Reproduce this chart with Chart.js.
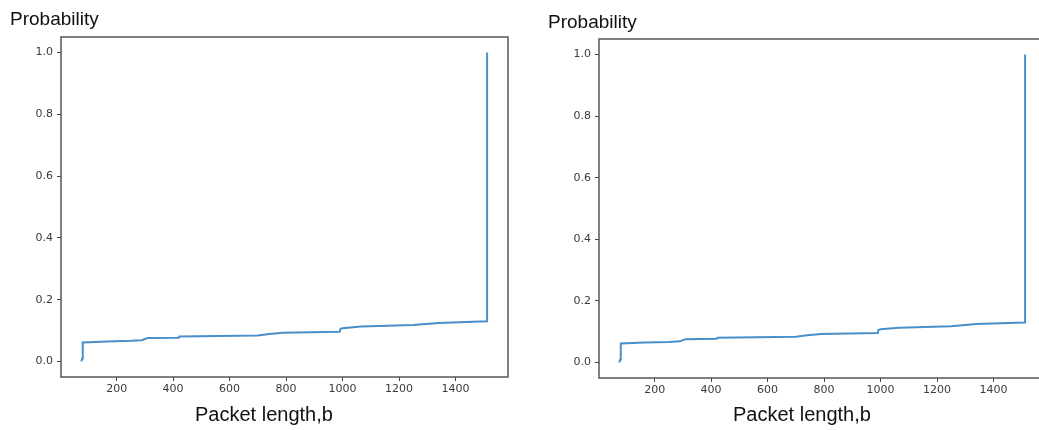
<!DOCTYPE html>
<html>
<head>
<meta charset="utf-8">
<title>Packet length CDF</title>
<script src="https://cdn.jsdelivr.net/npm/chart.js@4.4.1/dist/chart.umd.min.js"></script>
<style>
    html, body { margin: 0; padding: 0; background: #fff; }
    body { width: 1039px; height: 430px; overflow: hidden; position: relative; }
    .panel { position: absolute; top: 0; }
    .label { position: absolute; font-family: "Liberation Sans", Arial, sans-serif; color: #111; white-space: nowrap; }
    .ylab { font-size: 19px; }
    .xlab { font-size: 20px; }
</style>
</head>
<body>

<canvas id="cdf-left" class="panel" width="520" height="430" style="left:0"></canvas>
<canvas id="cdf-right" class="panel" width="530" height="430" style="left:520px"></canvas>

<div class="label ylab" style="left:10px; top:8px">Probability</div>
<div class="label xlab" style="left:195px; top:403px">Packet length,b</div>
<div class="label ylab" style="left:548px; top:11px">Probability</div>
<div class="label xlab" style="left:733px; top:403px">Packet length,b</div>

<script>
'use strict'

// empirical CDF of packet lengths (bytes)
const packetLength = [75, 78, 80, 80, 165, 250, 290, 300, 310, 420, 422, 700, 740, 790, 988, 990, 993, 1000, 1065, 1250, 1340, 1512, 1512];
const probability  = [0.0, 0.010, 0.012, 0.062, 0.065, 0.067, 0.069, 0.073, 0.076, 0.077, 0.081, 0.084, 0.089, 0.093, 0.096, 0.097, 0.106, 0.108, 0.113, 0.118, 0.125, 0.130, 1.0];

const xTicks = [200, 400, 600, 800, 1000, 1200, 1400];
const yTicks = [0.0, 0.2, 0.4, 0.6, 0.8, 1.0];

const lineColor = '#4790cb';
const axisColor = '#555';
const tickFont = { family: 'DejaVu Sans', size: 11 };

// box around the plotting area, like a matplotlib frame
const frame = {
    id: 'frame',
    afterDraw(chart) {
        const {ctx, chartArea: a} = chart;
        ctx.save();
        ctx.strokeStyle = axisColor;
        ctx.lineWidth = 1.5;
        ctx.strokeRect(a.left, a.top, a.right - a.left, a.bottom - a.top);
        ctx.restore();
    }
};

function build(id, opts) {
    const points = packetLength.map((x, i) => ({x: x, y: probability[i]}));
    return new Chart(document.getElementById(id), {
        type: 'line',
        data: {
            datasets: [{
                data: points,
                borderColor: lineColor,
                borderWidth: 2,
                pointRadius: 0,
                tension: 0,
                fill: false
            }]
        },
        options: {
            responsive: false,
            animation: false,
            devicePixelRatio: 1,
            layout: { padding: { top: opts.top, right: opts.right, left: 0, bottom: 0 } },
            plugins: { legend: { display: false }, tooltip: { enabled: false }, title: { display: false } },
            scales: {
                x: {
                    type: 'linear',
                    min: 3,
                    max: 1586,
                    afterBuildTicks: s => { s.ticks = xTicks.map(v => ({value: v})); },
                    afterFit: s => { s.height = opts.xHeight; },
                    ticks: { font: tickFont, color: '#3a3a3a', padding: 2, maxRotation: 0, callback: v => String(v) },
                    grid: { drawOnChartArea: false, drawTicks: true, tickLength: 4, color: '#444' },
                    border: { display: false }
                },
                y: {
                    type: 'linear',
                    min: -0.05,
                    max: 1.05,
                    afterBuildTicks: s => { s.ticks = yTicks.map(v => ({value: v})); },
                    afterFit: s => { s.width = opts.yWidth; },
                    ticks: { font: tickFont, color: '#3a3a3a', padding: 4, callback: v => Number(v).toFixed(1) },
                    grid: { drawOnChartArea: false, drawTicks: true, tickLength: 4, color: '#444' },
                    border: { display: false }
                }
            }
        },
        plugins: [frame]
    });
}

build('cdf-left',  { top: 37, right: 12, xHeight: 53, yWidth: 61 });
build('cdf-right', { top: 39, right: 4,  xHeight: 52, yWidth: 79 });
</script>
</body>
</html>
